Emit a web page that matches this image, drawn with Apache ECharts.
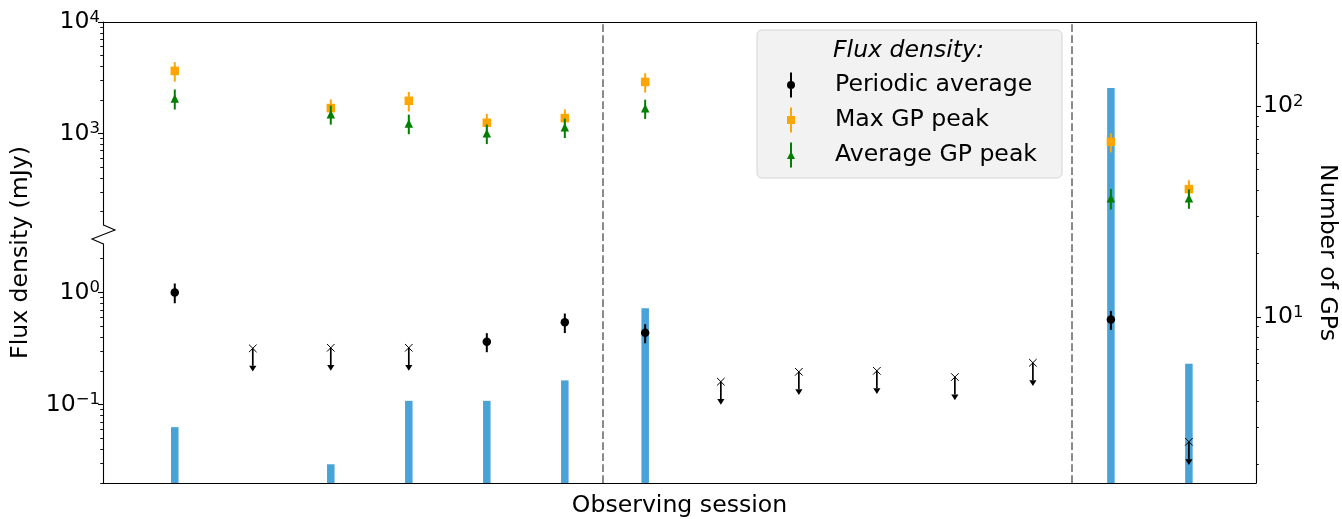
<!DOCTYPE html>
<html>
<head>
<meta charset="utf-8">
<script src="https://cdn.jsdelivr.net/npm/echarts@6/dist/echarts.min.js"></script>
<style>
html, body { margin: 0; padding: 0; background: #fff; }
#chart { width: 1342px; height: 519px; }
</style>
</head>
<body>
<div id="chart"></div>
<script>
// position of each observing session on the x axis
var sessionX = [0, 1, 2, 3, 4, 5, 6.03, 7, 8, 9, 10, 11, 12, 13];
// number of GPs per session (null = no GPs)
var gpCount = [3, null, 2, 4, 4, 5, 11, null, null, null, null, null, 122, 6];
// periodic average flux density (mJy), detections
var avgFlux    = [1.0, null, null, null, 0.363, 0.541, 0.436, null, null, null, null, null, 0.574, null];
var avgFluxErr = [0.2, null, null, null, 0.07, 0.107, 0.084, null, null, null, null, null, 0.11, null];
// periodic average upper limits (mJy) and arrow length
var limFlux = [null, 0.317, 0.321, 0.321, null, null, null, 0.160, 0.196, 0.200, 0.176, 0.236, null, 0.0466];
var limLen  = [null, 0.095, 0.096, 0.096, null, null, null, 0.048, 0.059, 0.060, 0.053, 0.071, null, 0.014];
// max GP peak (mJy)
var maxGP    = [3640, null, 1690, 1963, 1248, 1374, 2900, null, null, null, null, null, 841, 317];
var maxGPErr = [720, null, 330, 390, 250, 270, 570, null, null, null, null, null, 165, 63];
// average GP peak (mJy)
var meanGP    = [2060, null, 1490, 1230, 1003, 1135, 1680, null, null, null, null, null, 263, 263];
var meanGPErr = [420, null, 290, 245, 200, 225, 330, null, null, null, null, null, 55, 52];
// dashed separators between session groups
var groupBreaks = [5.48, 11.5];

var topMajor = [1000, 10000];
var topMinor = [200, 300, 400, 500, 600, 700, 800, 900, 2000, 3000, 4000, 5000, 6000, 7000, 8000, 9000];
var lowMajor = [0.1, 1];
var lowMinor = [0.02, 0.03, 0.04, 0.05, 0.06, 0.07, 0.08, 0.09, 0.2, 0.3, 0.4, 0.5, 0.6, 0.7, 0.8, 0.9, 2];
var gpMajor = [10, 100];
var gpMinor = [2, 3, 4, 5, 6, 7, 8, 9, 20, 30, 40, 50, 60, 70, 80, 90, 200];

var FONT = 'DejaVu Sans';
var FS = 23.6;

function points(vals, errs) {
    var out = [];
    for (var i = 0; i < vals.length; i++) {
        if (vals[i] == null) continue;
        out.push(errs ? [sessionX[i], vals[i], errs[i]] : [sessionX[i], vals[i]]);
    }
    return out;
}

function powLabel(v) {
    var e = Math.round(Math.log10(v));
    return '{b|10}{s|' + (e < 0 ? '\u2212' + (-e) : e) + '}';
}

var labelRich = {
    b: { fontSize: FS, lineHeight: 26, color: '#000', fontFamily: FONT },
    s: { fontSize: 16.5, lineHeight: 18, verticalAlign: 'top', color: '#000', fontFamily: FONT }
};

function majorAxis(grid, min, max, ticks, pos) {
    return {
        type: 'log', gridIndex: grid, min: min, max: max, position: pos,
        axisLine: { show: true, onZero: false, lineStyle: { color: '#000', width: 1.1 } },
        axisTick: { show: true, customValues: ticks, length: 5, lineStyle: { color: '#000', width: 1.1 } },
        axisLabel: { customValues: ticks, margin: pos === 'left' ? 3 : 7, formatter: powLabel, rich: labelRich },
        splitLine: { show: false }
    };
}

function minorAxis(grid, min, max, ticks, pos) {
    return {
        type: 'log', gridIndex: grid, min: min, max: max, position: pos,
        axisLine: { show: false, onZero: false },
        axisTick: { show: true, customValues: ticks, length: 2.8, lineStyle: { color: '#000', width: 0.9 } },
        axisLabel: { show: false },
        splitLine: { show: false }
    };
}

function errorBar(params, api) {
    var x = api.value(0), v = api.value(1), e = api.value(2);
    var hi = api.coord([x, v + e]);
    var lo = api.coord([x, v - e]);
    return {
        type: 'line',
        shape: { x1: hi[0], y1: hi[1], x2: lo[0], y2: lo[1] },
        style: { stroke: api.visual('color'), lineWidth: 2 }
    };
}

function upperLimit(params, api) {
    var x = api.value(0), v = api.value(1);
    var p = api.coord([x, v]);
    var b = api.coord([x, v - api.value(2)]);
    var s = 3.8, w = 3.6, h = 5.7;
    return {
        type: 'group',
        children: [
            { type: 'line', shape: { x1: p[0] - s, y1: p[1] - s, x2: p[0] + s, y2: p[1] + s }, style: { stroke: '#000', lineWidth: 1 } },
            { type: 'line', shape: { x1: p[0] - s, y1: p[1] + s, x2: p[0] + s, y2: p[1] - s }, style: { stroke: '#000', lineWidth: 1 } },
            { type: 'line', shape: { x1: p[0], y1: p[1], x2: b[0], y2: b[1] }, style: { stroke: '#000', lineWidth: 1.7 } },
            { type: 'polygon', shape: { points: [[b[0] - w, b[1]], [b[0] + w, b[1]], [b[0], b[1] + h]] }, style: { fill: '#000' } }
        ]
    };
}

var xRange = { min: -0.92, max: 13.86 };
var chart = echarts.init(document.getElementById('chart'));

var option = {
    animation: false,
    textStyle: { fontFamily: FONT },
    title: {
        text: 'Flux density:', left: 833, top: 38, padding: 0,
        textStyle: { fontFamily: FONT, fontStyle: 'italic', fontWeight: 'normal', fontSize: FS, lineHeight: 26, color: '#000' }
    },
    legend: {
        orient: 'vertical', left: 757, top: 30, selectedMode: false,
        backgroundColor: '#f2f2f2', borderColor: '#d4d4d4', borderWidth: 1, borderRadius: 5,
        padding: [42, 25, 10, 30],
        itemWidth: 8, itemHeight: 26, itemGap: 9,
        formatter: '{t|{name}}',
        textStyle: {
            fontFamily: FONT, fontSize: FS, color: '#000', lineHeight: 26,
            rich: { t: { fontFamily: FONT, fontSize: FS, lineHeight: 26, height: 26, color: '#000', padding: [0, 0, 0, 35] } }
        },
        data: [
            { name: 'Periodic average', icon: 'path://M3,0H5V25H3Z M0,12.5A4,4 0 1 1 8,12.5A4,4 0 1 1 0,12.5Z' },
            { name: 'Max GP peak', icon: 'path://M3,0H5V25H3Z M0,8.5H8V16.5H0Z' },
            { name: 'Average GP peak', icon: 'path://M3,0H5V25H3Z M4,8.5L8,16.5H0Z' }
        ]
    },
    grid: [
        { left: 103, right: 86, top: 22, height: 203, outerBoundsMode: 'none' },
        { left: 103, right: 86, top: 244, bottom: 36, outerBoundsMode: 'none' },
        { left: 103, right: 86, top: 22, bottom: 36, outerBoundsMode: 'none' }
    ],
    xAxis: [
        {
            type: 'value', gridIndex: 0, min: xRange.min, max: xRange.max, position: 'top',
            axisLine: { show: true, onZero: false, lineStyle: { color: '#000', width: 1.1 } },
            axisTick: { show: false }, axisLabel: { show: false }, splitLine: { show: false }
        },
        {
            type: 'value', gridIndex: 1, min: xRange.min, max: xRange.max, position: 'bottom',
            axisLine: { show: true, onZero: false, lineStyle: { color: '#000', width: 1.1 } },
            axisTick: { show: false }, axisLabel: { show: false }, splitLine: { show: false },
            name: 'Observing session', nameLocation: 'middle', nameGap: 9.5,
            nameTextStyle: { fontFamily: FONT, fontSize: FS, lineHeight: 26, color: '#000' }
        },
        { type: 'value', gridIndex: 2, min: xRange.min, max: xRange.max, show: false }
    ],
    yAxis: [
        majorAxis(0, 151, 10000, topMajor, 'left'),
        minorAxis(0, 151, 10000, topMinor, 'left'),
        majorAxis(1, 0.02, 2.70, lowMajor, 'left'),
        minorAxis(1, 0.02, 2.70, lowMinor, 'left'),
        Object.assign(majorAxis(2, 1.63, 251, gpMajor, 'right'), {
            name: 'Number of GPs', nameLocation: 'middle', nameRotate: -90, nameGap: 47,
            nameTextStyle: { fontFamily: FONT, fontSize: FS, lineHeight: 26, color: '#000' }
        }),
        minorAxis(2, 1.63, 251, gpMinor, 'right'),
        {
            type: 'value', gridIndex: 2, min: 0, max: 1, position: 'left',
            axisLine: { show: false, onZero: false }, axisTick: { show: false },
            axisLabel: { show: false }, splitLine: { show: false },
            name: 'Flux density (mJy)', nameLocation: 'middle', nameGap: 69,
            nameTextStyle: { fontFamily: FONT, fontSize: FS, lineHeight: 26, color: '#000' }
        }
    ],
    series: [
        {
            name: 'Number of GPs', type: 'bar', xAxisIndex: 2, yAxisIndex: 4, z: 1,
            barWidth: 7.5, itemStyle: { color: '#48a3d8' },
            data: points(gpCount),
            markLine: {
                silent: true, symbol: 'none', label: { show: false },
                lineStyle: { color: '#8a8a8a', type: [7.7, 3.3], width: 2 },
                data: groupBreaks.map(function (b) { return { xAxis: b }; })
            }
        },
        {
            type: 'custom', xAxisIndex: 0, yAxisIndex: 0, z: 3, renderItem: errorBar,
            itemStyle: { color: '#ffa500' }, encode: { x: 0, y: 1 }, data: points(maxGP, maxGPErr)
        },
        {
            name: 'Max GP peak', type: 'scatter', xAxisIndex: 0, yAxisIndex: 0, z: 4,
            symbol: 'rect', symbolSize: 8.5, itemStyle: { color: '#ffa500', opacity: 1 },
            data: points(maxGP)
        },
        {
            type: 'custom', xAxisIndex: 0, yAxisIndex: 0, z: 5, renderItem: errorBar,
            itemStyle: { color: '#008000' }, encode: { x: 0, y: 1 }, data: points(meanGP, meanGPErr)
        },
        {
            name: 'Average GP peak', type: 'scatter', xAxisIndex: 0, yAxisIndex: 0, z: 6,
            symbol: 'triangle', symbolSize: 8.5, itemStyle: { color: '#008000', opacity: 1 },
            data: points(meanGP)
        },
        {
            type: 'custom', xAxisIndex: 1, yAxisIndex: 2, z: 3, renderItem: errorBar,
            itemStyle: { color: '#000' }, encode: { x: 0, y: 1 }, data: points(avgFlux, avgFluxErr)
        },
        {
            name: 'Periodic average', type: 'scatter', xAxisIndex: 1, yAxisIndex: 2, z: 4,
            symbol: 'circle', symbolSize: 8.5, itemStyle: { color: '#000', opacity: 1 },
            data: points(avgFlux)
        },
        {
            type: 'custom', xAxisIndex: 1, yAxisIndex: 2, z: 3, renderItem: upperLimit,
            encode: { x: 0, y: 1 }, data: points(limFlux, limLen)
        }
    ],
    graphic: [
        {
            type: 'polyline', z: 10, silent: true,
            shape: { points: [[103.5, 225], [115, 230], [92, 239], [103.5, 244]] },
            style: { stroke: '#000', lineWidth: 1.1, fill: null }
        }
    ]
};

chart.setOption(option);
</script>
</body>
</html>
